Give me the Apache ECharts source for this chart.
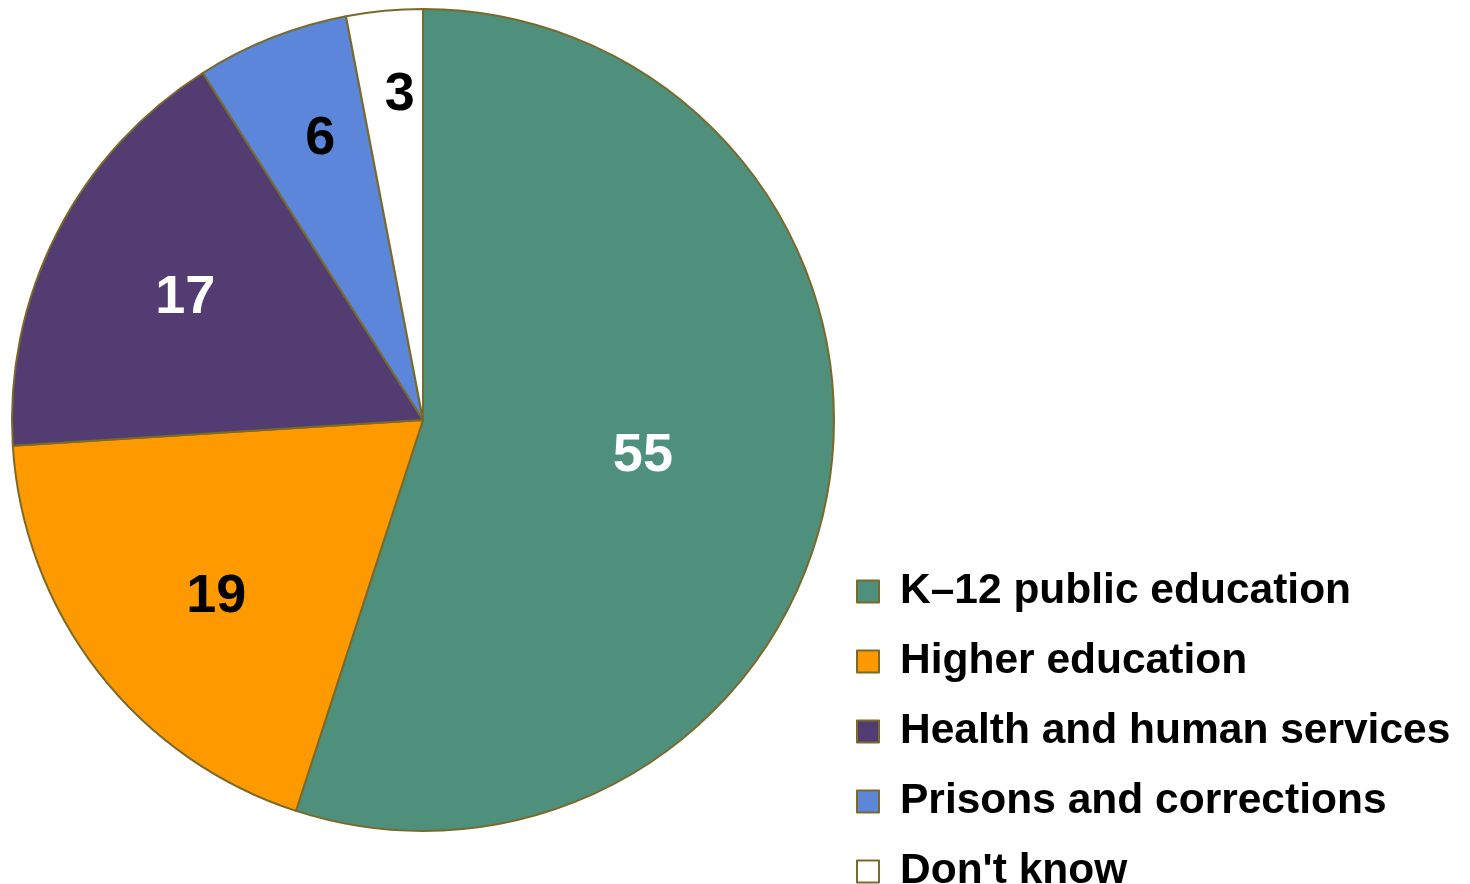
<!DOCTYPE html>
<html>
<head>
<meta charset="utf-8">
<script src="https://cdn.jsdelivr.net/npm/echarts@6/dist/echarts.min.js"></script>
<style>
  html, body { margin: 0; padding: 0; background: #fff; }
  #main { width: 1470px; height: 884px; }
</style>
</head>
<body>
<div id="main"></div>
<script>
	/*************** 数据 **************/
	var categories = ['K\u201312 public education', 'Higher education', 'Health and human services', 'Prisons and corrections', "Don't know"];
	var values = [55, 19, 17, 6, 3];
	var colors = ['#4f907c', '#ff9900', '#523c72', '#5b86d9', '#ffffff'];
	var labelColors = ['#fff', '#000', '#fff', '#000', '#000'];
	// 标签离圆心的比例和角度微调（按参考图调整）
	var labelRadius = [0.535, 0.655, 0.643, 0.72, 0.785];
	var labelTurn = [0.4, -2.8, 0.2, 1.5, 1.3];

	var R = 411;
	var total = values.reduce(function (a, b) { return a + b; }, 0);

	function pieData() {
		var acc = 0;
		return categories.map(function (name, i) {
			var mid = (acc + values[i] / 2) / total * Math.PI * 2;
			acc += values[i];
			// inside 标签默认在半径一半处，这里按比例推出去
			var a = mid + labelTurn[i] * Math.PI / 180;
			var x = labelRadius[i] * R * Math.sin(a) - 0.5 * R * Math.sin(mid);
			var y = -labelRadius[i] * R * Math.cos(a) + 0.5 * R * Math.cos(mid);
			return {
				name: name,
				value: values[i],
				itemStyle: { color: colors[i] },
				label: {
					color: labelColors[i],
					offset: [x, y]
				}
			};
		});
	}

	var chart = echarts.init(document.getElementById('main'));
	var opt = {
		backgroundColor: '#fff',
		animation: false,
		legend: {
			orient: 'vertical',
			left: 856,
			top: 570,
			height: 330,
			padding: 0,
			itemWidth: 22,
			itemHeight: 22,
			itemGap: 27,
			icon: 'rect',
			data: categories,
			itemStyle: {
				borderColor: '#7a6a2a',
				borderWidth: 2
			},
			textStyle: {
				color: '#000',
				fontFamily: 'Liberation Sans, Arial, sans-serif',
				fontWeight: 'bold',
				fontSize: 42.5,
				lineHeight: 42,
				padding: [0, 0, 0, 16]
			}
		},
		series: [{
			type: 'pie',
			center: [423, 420],
			radius: R,
			startAngle: 90,
			clockwise: true,
			data: pieData(),
			itemStyle: {
				borderColor: '#7a6a2a',
				borderWidth: 2
			},
			label: {
				show: true,
				position: 'inside',
				formatter: '{c}',
				fontFamily: 'Liberation Sans, Arial, sans-serif',
				fontWeight: 'bold',
				fontSize: 54
			},
			labelLine: { show: false },
			emphasis: { disabled: true }
		}]
	};
	chart.setOption(opt);
</script>
</body>
</html>
